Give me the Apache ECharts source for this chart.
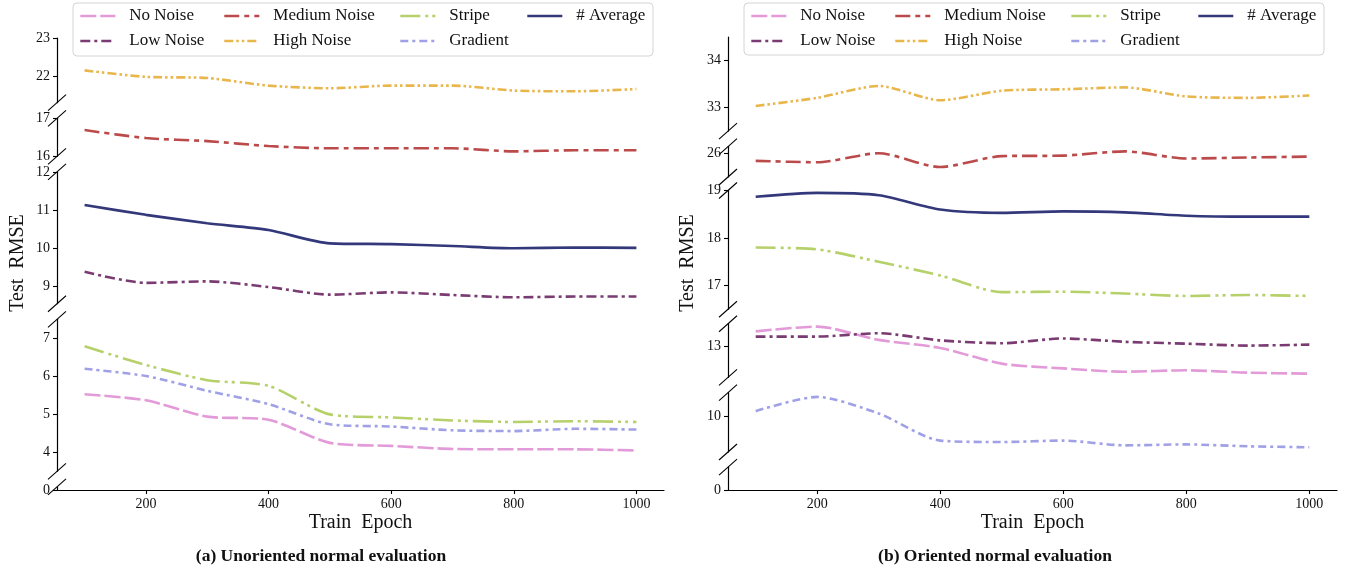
<!DOCTYPE html>
<html><head><meta charset="utf-8">
<script src="https://cdn.jsdelivr.net/npm/echarts@6/dist/echarts.min.js"></script>
<style>html,body{margin:0;padding:0;background:#fff}#c{width:1349px;height:573px}</style>
</head><body><div id="c"></div>
<script>
// ---------------- DATA ----------------
const epochs = [100, 200, 300, 400, 500, 600, 700, 800, 900, 1000];
const xTicks = [200, 400, 600, 800, 1000];
const seriesNames = ['No Noise', 'Low Noise', 'Medium Noise', 'High Noise', 'Stripe', 'Gradient', '# Average'];

// (a) Unoriented normal evaluation
const aNoNoise     = [5.53, 5.37, 4.94, 4.86, 4.25, 4.17, 4.09, 4.08, 4.08, 4.05];
const aLowNoise    = [9.37, 9.08, 9.12, 8.97, 8.77, 8.83, 8.76, 8.70, 8.72, 8.72];
const aMediumNoise = [16.69, 16.48, 16.40, 16.27, 16.21, 16.21, 16.21, 16.13, 16.16, 16.16];
const aHighNoise   = [22.15, 21.98, 21.95, 21.75, 21.68, 21.75, 21.75, 21.62, 21.60, 21.66];
const aStripe      = [6.79, 6.30, 5.90, 5.75, 5.00, 4.92, 4.84, 4.80, 4.82, 4.80];
const aGradient    = [6.20, 6.01, 5.62, 5.27, 4.74, 4.68, 4.58, 4.56, 4.62, 4.60];
const aAverage     = [11.13, 10.87, 10.65, 10.47, 10.12, 10.10, 10.05, 9.99, 10.01, 10.00];

// (b) Oriented normal evaluation
const bNoNoise     = [13.32, 13.42, 13.14, 12.97, 12.64, 12.54, 12.47, 12.50, 12.45, 12.43];
const bLowNoise    = [13.21, 13.21, 13.28, 13.13, 13.07, 13.17, 13.10, 13.06, 13.02, 13.04];
const bMediumNoise = [25.84, 25.81, 26.00, 25.71, 25.94, 25.95, 26.04, 25.89, 25.91, 25.93];
const bHighNoise   = [33.03, 33.20, 33.45, 33.15, 33.35, 33.38, 33.42, 33.23, 33.20, 33.25];
const bStripe      = [17.80, 17.76, 17.50, 17.21, 16.86, 16.87, 16.83, 16.78, 16.80, 16.78];
const bGradient    = [10.11, 10.41, 10.06, 9.49, 9.46, 9.49, 9.39, 9.41, 9.37, 9.35];
const bAverage     = [18.87, 18.95, 18.90, 18.60, 18.53, 18.56, 18.54, 18.47, 18.45, 18.45];

// broken y-axis segments (bottom to top): value limits and tick labels
const aSegMin   = [0, 3.5, 8.53, 16.0, 21.3];
const aSegMax   = [0.08, 7.5, 12.0, 17.0, 23.0];
const aSegTicks = [[0], [4, 5, 6, 7], [9, 10, 11, 12], [16, 17], [22, 23]];
const bSegMin   = [0, 9.25, 12.35, 16.5, 25.5, 32.5];
const bSegMax   = [0.48, 10.5, 13.48, 19.0, 26.14, 34.48];
const bSegTicks = [[0], [10], [13], [17, 18, 19], [26], [33, 34]];

// ---------------- STYLE / LAYOUT ----------------
const FONT = 'Liberation Serif';
const lineStyles = {
  'No Noise':     { color: '#e29bd8', dash: [16, 4] },
  'Low Noise':    { color: '#7a3b72', dash: [10, 4, 3, 4] },
  'Medium Noise': { color: '#bb4a4a', dash: [15, 5, 5, 5] },
  'High Noise':   { color: '#e9b64c', dash: [9, 3, 2.5, 3, 2.5, 3] },
  'Stripe':       { color: '#b6d06a', dash: [20, 5, 3, 4, 3, 5] },
  'Gradient':     { color: '#a0a0e6', dash: [8, 4, 3, 4] },
  '# Average':    { color: '#33387a', dash: 'solid' }
};
const panels = [
  { values: [aNoNoise, aLowNoise, aMediumNoise, aHighNoise, aStripe, aGradient, aAverage],
    segMin: aSegMin, segMax: aSegMax, segTicks: aSegTicks,
    left: 57, right: 664, bottom: 490, scale: 38, gaps: [15.6, 15.6, 15.6, 15.6],
    legendBox: [73, 3, 580, 53], legendCols: [79, 223, 399, 526],
    caption: '(a) Unoriented normal evaluation', captionX: 321, ylabelX: 18 },
  { values: [bNoNoise, bLowNoise, bMediumNoise, bHighNoise, bStripe, bGradient, bAverage],
    segMin: bSegMin, segMax: bSegMax, segTicks: bSegTicks,
    left: 728, right: 1337, bottom: 490, scale: 47.5, gaps: [15.2, 15.2, 14.5, 13.5, 15.5],
    legendBox: [744, 3, 580, 52], legendCols: [750, 894, 1070, 1197],
    caption: '(b) Oriented normal evaluation', captionX: 995, ylabelX: 688 }
];
const legendColumns = [['No Noise', 'Low Noise'], ['Medium Noise', 'High Noise'], ['Stripe', 'Gradient'], ['# Average']];

const grid = [], xAxis = [], yAxis = [], series = [], legend = [], graphic = [];
const axisColor = '#000';
const numFmt = v => String(v);

panels.forEach((p, pi) => {
  const firstGrid = grid.length;
  let cursor = p.bottom;
  const segPx = [];
  p.segMin.forEach((mn, i) => {
    const mx = p.segMax[i];
    if (i > 0) cursor -= p.gaps[i - 1];
    const bottomPx = cursor;
    const topPx = bottomPx - (mx - mn) * p.scale;
    cursor = topPx;
    segPx.push([topPx, bottomPx]);
    grid.push({ left: p.left, width: p.right - p.left, top: topPx, height: bottomPx - topPx,
                containLabel: false, outerBoundsMode: 'none' });
    const gi = grid.length - 1;
    xAxis.push({
      gridIndex: gi, type: 'value', min: 55, max: 1045, show: i === 0,
      axisLine: { onZero: false, lineStyle: { color: axisColor, width: 1.2 } },
      axisTick: { customValues: xTicks, length: 4, lineStyle: { color: axisColor, width: 1.1 } },
      axisLabel: { customValues: xTicks, formatter: numFmt, fontFamily: FONT, fontSize: 14, color: '#111', margin: 7 },
      splitLine: { show: false }
    });
    yAxis.push({
      gridIndex: gi, type: 'value', min: mn, max: mx,
      axisLine: { show: true, onZero: false, lineStyle: { color: axisColor, width: 1.2 } },
      axisTick: { show: true, customValues: p.segTicks[i], length: 4, lineStyle: { color: axisColor, width: 1.1 } },
      axisLabel: { customValues: p.segTicks[i], formatter: numFmt, fontFamily: FONT, fontSize: 14, color: '#111', margin: 7 },
      splitLine: { show: false }
    });
  });

  // series: each goes on the segment that holds its values
  seriesNames.forEach((name, si) => {
    const vals = p.values[si];
    const lo = Math.min(...vals), hi = Math.max(...vals);
    const seg = p.segMin.findIndex((mn, i) => mn <= lo && hi <= p.segMax[i]);
    const st = lineStyles[name];
    series.push({
      name, type: 'line', xAxisIndex: firstGrid + seg, yAxisIndex: firstGrid + seg,
      data: epochs.map((e, k) => [e, vals[k]]),
      symbol: 'none', smooth: 0.25,
      lineStyle: { color: st.color, width: 2.6, type: st.dash },
      itemStyle: { color: st.color }, z: 3
    });
  });

  // break marks
  const nSeg = segPx.length;
  segPx.forEach(([t, b], i) => {
    const ys = [];
    if (i > 0) ys.push(b);
    if (i < nSeg - 1) ys.push(t);
    ys.forEach(y => graphic.push({
      type: 'line', z: 10,
      shape: { x1: p.left - 9, y1: y + 8, x2: p.left + 9, y2: y - 8 },
      style: { stroke: '#000', lineWidth: 1.1 }
    }));
  });

  // legend box
  const [bx, by, bw, bh] = p.legendBox;
  graphic.push({ type: 'rect', z: 5, shape: { x: bx, y: by, width: bw, height: bh, r: 4 },
                 style: { fill: 'rgba(255,255,255,0.85)', stroke: '#d4d4d4', lineWidth: 1 } });
  legendColumns.forEach((col, ci) => {
    legend.push({
      data: col, orient: 'vertical', left: p.legendCols[ci], top: 7.5, padding: 0,
      itemWidth: 35, itemHeight: 14, itemGap: 8, z: 6,
      itemStyle: { opacity: 0 },
      lineStyle: { width: 2.6 },
      textStyle: { fontFamily: FONT, fontSize: 17, color: '#111', padding: [0, 0, 0, 9] },
      selectedMode: false
    });
  });

  // axis titles and caption
  graphic.push({ type: 'text', z: 10, x: (p.left + p.right) / 2, y: 523,
    style: { text: 'Train  Epoch', font: '20px "Liberation Serif"', fill: '#111',
             textAlign: 'center', textVerticalAlign: 'middle', align: 'center', verticalAlign: 'middle' } });
  graphic.push({ type: 'text', z: 10, x: p.ylabelX, y: 263, rotation: Math.PI / 2,
    style: { text: 'Test  RMSE', font: '20px "Liberation Serif"', fill: '#111',
             textAlign: 'center', textVerticalAlign: 'middle', align: 'center', verticalAlign: 'middle' } });
  graphic.push({ type: 'text', z: 10, x: p.captionX, y: 556,
    style: { text: p.caption, font: 'bold 17.5px "Liberation Serif"', fill: '#111',
             textAlign: 'center', textVerticalAlign: 'middle', align: 'center', verticalAlign: 'middle' } });
});

const chart = echarts.init(document.getElementById('c'));
chart.setOption({
  animation: false,
  backgroundColor: '#fff',
  grid, xAxis, yAxis, series, legend, graphic
});
</script>
</body></html>
